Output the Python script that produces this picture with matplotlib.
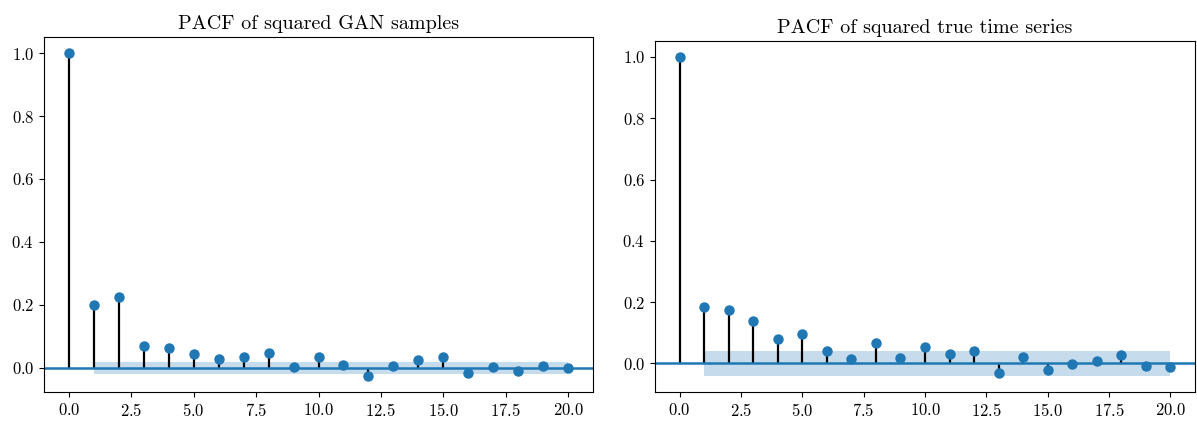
import numpy as np
import matplotlib
matplotlib.use("Agg")
import matplotlib.pyplot as plt

plt.rcParams['font.family'] = 'serif'
plt.rcParams['font.serif'] = ['cmr10']
plt.rcParams['mathtext.fontset'] = 'cm'
plt.rcParams['axes.formatter.use_mathtext'] = True

lags = list(range(21))
gan_pacf = [1.0, 0.199, 0.224, 0.069, 0.062, 0.045, 0.027, 0.033, 0.047, 0.003,
            0.035, 0.009, -0.026, 0.005, 0.024, 0.033, -0.017, 0.003, -0.012, 0.004, -0.001]
true_pacf = [1.0, 0.185, 0.176, 0.140, 0.080, 0.097, 0.040, 0.016, 0.066, 0.019,
             0.054, 0.031, 0.040, -0.032, 0.020, -0.020, -0.003, 0.007, 0.028, -0.009, -0.010]
gan_conf = 0.0185
true_conf = 0.041
titles = ["PACF of squared GAN samples", "PACF of squared true time series"]

fig = plt.figure(figsize=(11.97, 4.25), dpi=100)
ax1 = fig.add_axes([44/1197, 33/425, 549/1197, 355/425])
ax2 = fig.add_axes([655/1197, 33/425, 540/1197, 351/425])

for ax, vals, conf, title in [(ax1, gan_pacf, gan_conf, titles[0]),
                              (ax2, true_pacf, true_conf, titles[1])]:
    x = np.array(lags)
    y = np.array(vals)
    ax.vlines(x, 0, y, colors='k', linewidth=1.6)
    ax.plot(x, y, 'o', color='C0', markersize=6.5)
    ax.axhline(0, color='C0', linewidth=1.8)
    xb = x[1:]
    ax.fill_between(xb, -conf, conf, color='C0', alpha=0.25, linewidth=0)
    ax.margins(0.05)
    ax.set_xlim(-1, len(lags))
    ax.set_title(title, fontsize=14.5)
    ax.tick_params(labelsize=12)

fig.savefig("out.png", dpi=100)
